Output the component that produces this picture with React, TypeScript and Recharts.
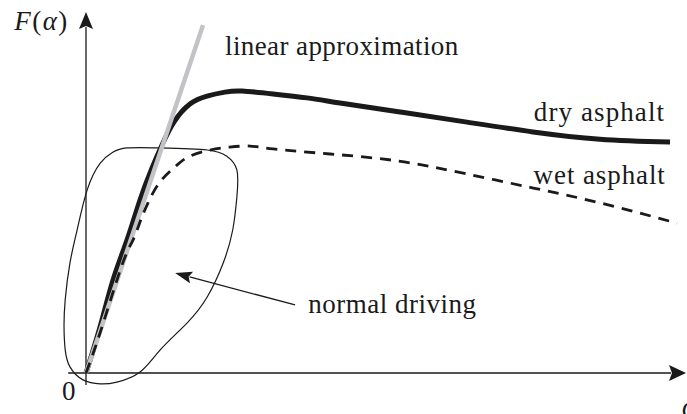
import React from 'react';
import { ComposedChart, Line, XAxis, YAxis, ReferenceLine, ReferenceDot } from 'recharts';

// Tyre force F versus slip alpha (normalised units)
const dryAlpha = [0, 0.0236, 0.0455, 0.069, 0.0909, 0.111, 0.128, 0.148, 0.175, 0.2037, 0.234, 0.2626, 0.3148, 0.372, 0.4276, 0.5286, 0.6414, 0.7525, 0.8653, 0.9832];
const dryForce = [0, 0.127, 0.257, 0.367, 0.478, 0.566, 0.63, 0.693, 0.743, 0.765, 0.776, 0.779, 0.771, 0.76, 0.746, 0.721, 0.693, 0.666, 0.646, 0.638];

const wetAlpha = [0, 0.0253, 0.0606, 0.0791, 0.0909, 0.1044, 0.1246, 0.1515, 0.175, 0.209, 0.242, 0.276, 0.315, 0.411, 0.524, 0.635, 0.753, 0.865, 0.995];
const wetForce = [0, 0.119, 0.298, 0.367, 0.417, 0.47, 0.528, 0.572, 0.599, 0.616, 0.624, 0.627, 0.619, 0.605, 0.586, 0.552, 0.511, 0.47, 0.414];

const linearAlpha = [0, 0.197];
const linearForce = [0, 0.961];

// Closed outline of the normal-driving operating region
const regionAlpha = [0.125, 0.204, 0.237, 0.254, 0.254, 0.247, 0.231, 0.204, 0.17, 0.125, 0.091, 0.052, 0.024, -0.005, -0.027, -0.035, -0.037, -0.035, -0.027, -0.015, 0.002, 0.024, 0.045, 0.069, 0.125];
const regionForce = [0.622, 0.616, 0.599, 0.561, 0.486, 0.395, 0.304, 0.21, 0.138, 0.064, 0.003, -0.025, -0.03, -0.019, 0.017, 0.064, 0.127, 0.202, 0.304, 0.395, 0.506, 0.58, 0.61, 0.622, 0.622];

const zip = (a: number[], f: number[]) => a.map((v, i) => ({ a: v, f: f[i] }));
const dryData = zip(dryAlpha, dryForce);
const wetData = zip(wetAlpha, wetForce);
const linearData = zip(linearAlpha, linearForce);
const regionData = zip(regionAlpha, regionForce);

const X_DOMAIN: [number, number] = [-0.14478, 1.01178];
const Y_DOMAIN: [number, number] = [-0.11326, 1.03039];

const INK = '#1a1a1a';
const FONT = 'Liberation Serif';

const arrowShape = (headLen: number, headHalf: number, width: number) => (props: any) => {
  const { x1, y1, x2, y2 } = props;
  const dx = x2 - x1;
  const dy = y2 - y1;
  const len = Math.hypot(dx, dy) || 1;
  const ux = dx / len;
  const uy = dy / len;
  const bx = x2 - ux * headLen;
  const by = y2 - uy * headLen;
  const px = -uy;
  const py = ux;
  return (
    <g>
      <line x1={x1} y1={y1} x2={bx + ux * 2} y2={by + uy * 2} stroke={INK} strokeWidth={width} />
      <polygon
        points={`${x2},${y2} ${bx + px * headHalf},${by + py * headHalf} ${bx + ux * 3},${by + uy * 3} ${bx - px * headHalf},${by - py * headHalf}`}
        fill={INK}
      />
    </g>
  );
};

type Note = { text: string; a: number; f: number; anchor: 'start' | 'middle' | 'end'; spacing: number };
const notes: Note[] = [
  { text: 'linear approximation', a: 0.234, f: 0.878, anchor: 'start', spacing: 0.4 },
  { text: 'dry asphalt', a: 0.975, f: 0.696, anchor: 'end', spacing: 1.1 },
  { text: 'wet asphalt', a: 0.976, f: 0.522, anchor: 'end', spacing: 0.9 },
  { text: 'normal driving', a: 0.374, f: 0.166, anchor: 'start', spacing: 0.5 },
  { text: '0', a: -0.029, f: -0.075, anchor: 'middle', spacing: 0 },
];

const noteShape = (n: Note) => (p: any) => (
  <text
    x={p.cx}
    y={p.cy}
    textAnchor={n.anchor}
    style={{ fontFamily: FONT, fontSize: 27, letterSpacing: n.spacing }}
    fill={INK}
  >
    {n.text}
  </text>
);

const yTitleShape = (p: any) => (
  <text x={p.cx} y={p.cy} style={{ fontFamily: FONT, fontSize: 27, letterSpacing: 1.5 }} fill={INK}>
    <tspan fontStyle="italic">F</tspan>
    <tspan>(</tspan>
    <tspan fontStyle="italic">α</tspan>
    <tspan>)</tspan>
  </text>
);

const xTitleShape = (p: any) => (
  <text x={p.cx} y={p.cy} style={{ fontFamily: FONT, fontSize: 27, fontStyle: 'italic' }} fill={INK}>
    α
  </text>
);

const lineCommon = { dot: false, activeDot: false, isAnimationActive: false } as const;

export default function App() {
  return (
    <div style={{ position: 'absolute', left: 0, top: 0, width: 687, height: 414, background: '#fff' }}>
      <ComposedChart width={687} height={414} margin={{ top: 0, right: 0, bottom: 0, left: 0 }}>
        <XAxis type="number" dataKey="a" domain={X_DOMAIN} allowDataOverflow hide />
        <YAxis type="number" dataKey="f" domain={Y_DOMAIN} allowDataOverflow hide />

        <ReferenceLine
          segment={[{ x: 0, y: -0.033 }, { x: 0, y: 0.997 }]}
          ifOverflow="visible"
          shape={arrowShape(17, 7, 1.3)}
        />
        <ReferenceLine
          segment={[{ x: -0.03, y: 0 }, { x: 1.0101, y: 0 }]}
          ifOverflow="visible"
          shape={arrowShape(17, 8, 1.3)}
        />

        <Line {...lineCommon} data={regionData} dataKey="f" type="natural" stroke={INK} strokeWidth={1.2} />
        <Line {...lineCommon} data={dryData} dataKey="f" type="natural" stroke={INK} strokeWidth={5} />
        <Line {...lineCommon} data={linearData} dataKey="f" type="linear" stroke="#c3c3c7" strokeWidth={4.5} />
        <Line {...lineCommon} data={wetData} dataKey="f" type="natural" stroke={INK} strokeWidth={2.8} strokeDasharray="11 8" />

        <ReferenceLine
          segment={[{ x: 0.352, y: 0.188 }, { x: 0.15, y: 0.276 }]}
          ifOverflow="visible"
          shape={arrowShape(17, 6, 1.3)}
        />

        {notes.map((n) => (
          <ReferenceDot key={n.text} x={n.a} y={n.f} r={0} ifOverflow="visible" shape={noteShape(n)} />
        ))}
        <ReferenceDot x={-0.121} y={0.948} r={0} ifOverflow="visible" shape={yTitleShape} />
        <ReferenceDot x={1.0034} y={-0.119} r={0} ifOverflow="visible" shape={xTitleShape} />
      </ComposedChart>
    </div>
  );
}
